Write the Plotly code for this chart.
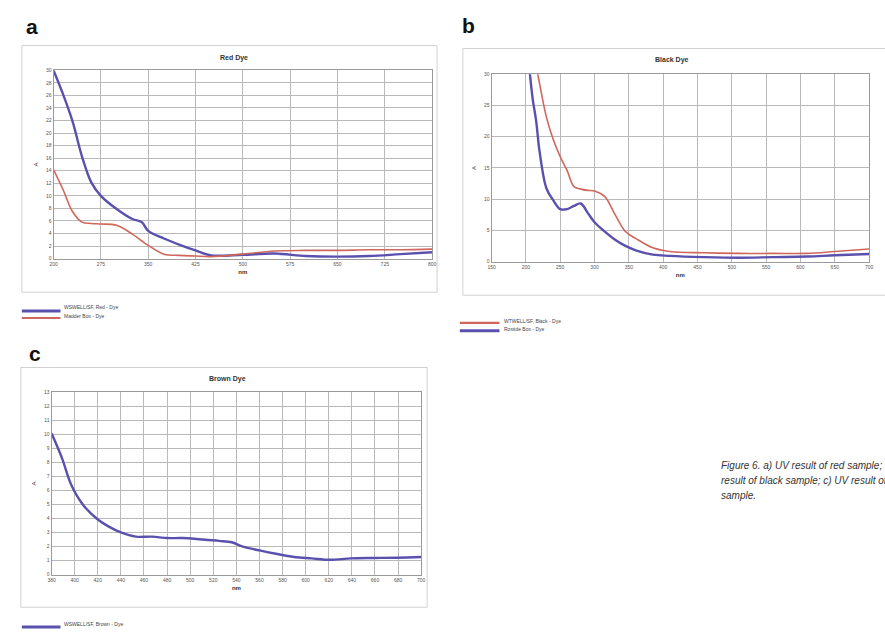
import plotly.graph_objects as go

# ---- Red dye spectra ----
wl_red = [200, 215, 230, 245, 260, 275, 300, 325, 340, 350, 375, 400, 425, 450,
          500, 550, 600, 650, 700, 750, 800]
red_sample = [30.0, 26.2, 21.9, 16.3, 12.1, 10.0, 7.9, 6.3, 5.8, 4.4, 3.2, 2.2, 1.3,
              0.5, 0.6, 0.8, 0.4, 0.3, 0.4, 0.7, 1.0]
red_ref = [14.2, 11.0, 7.5, 5.8, 5.6, 5.5, 5.3, 3.9, 2.8, 2.1, 0.7, 0.5, 0.4,
           0.3, 0.7, 1.2, 1.3, 1.3, 1.4, 1.4, 1.5]

# ---- Black dye spectra ----
wl_black = [205, 210, 215, 220, 230, 240, 250, 260, 270, 280, 290, 300, 315, 330,
            345, 360, 385, 410, 460, 510, 560, 610, 650, 700]
black_sample = [40.0, 36.0, 31.5, 28.5, 23.1, 19.5, 16.8, 14.6, 12.0, 11.6, 11.4, 11.3,
                10.4, 7.5, 4.8, 3.7, 2.2, 1.6, 1.4, 1.3, 1.3, 1.3, 1.6, 2.0]
black_ref = [31.0, 26.0, 22.5, 17.6, 11.7, 9.8, 8.4, 8.4, 8.9, 9.3, 7.8, 6.3,
             4.8, 3.5, 2.5, 1.8, 1.1, 0.9, 0.7, 0.6, 0.7, 0.8, 1.0, 1.2]

# ---- Brown dye spectrum ----
wl_brown = [380, 389, 397, 407, 419, 430, 440, 453, 467, 480, 493, 510, 525, 536,
            545, 561, 573, 590, 605, 621, 639, 659, 679, 700]
brown_sample = [10.07, 8.3, 6.4, 5.0, 4.0, 3.4, 3.0, 2.7, 2.7, 2.6, 2.6, 2.5, 2.4, 2.3,
                2.0, 1.7, 1.5, 1.25, 1.15, 1.05, 1.15, 1.18, 1.2, 1.25]

names_red = ["WSWELL/SF, Red - Dye", "Madder Box - Dye"]
names_black = ["WTWELL/SF, Black - Dye", "Rostide Box - Dye"]
names_brown = ["WSWELL/SF, Brown - Dye"]

BLUE = "#5a50ae"
RED = "#d0675c"
W, H = 885, 632


def px(x):
    return x / W


def py(y):
    return 1 - y / H


series = [
    # x, y, name, colour, width, axes
    (wl_red, red_sample, names_red[0], BLUE, 2.4, "x", "y"),
    (wl_red, red_ref, names_red[1], RED, 1.6, "x", "y"),
    (wl_black, black_sample, names_black[0], RED, 1.6, "x2", "y2"),
    (wl_black, black_ref, names_black[1], BLUE, 2.4, "x2", "y2"),
    (wl_brown, brown_sample, names_brown[0], BLUE, 2.4, "x3", "y3"),
]

fig = go.Figure()
for xs, ys, name, col, w, xr, yr in series:
    fig.add_trace(go.Scatter(x=xs, y=ys, name=name, mode="lines",
                             line=dict(color=col, width=w, shape="spline"),
                             xaxis=xr, yaxis=yr, showlegend=False))

tickfont = dict(family="Liberation Sans", size=5, color="#555")
grid = dict(showgrid=True, gridcolor="#b9b9b9", gridwidth=1, showline=True,
            linecolor="#9a9a9a", linewidth=1, mirror=True, zeroline=False,
            ticks="", tickfont=tickfont)
ttl = dict(family="Liberation Sans", size=6, color="#333")


def xa(dom, rng, dt, anchor):
    return dict(domain=dom, range=rng, dtick=dt, tick0=rng[0], anchor=anchor,
                title=dict(text="<b>nm</b>", font=ttl, standoff=4), **grid)


def ya(dom, rng, dt, anchor):
    return dict(domain=dom, range=rng, dtick=dt, tick0=0, anchor=anchor,
                title=dict(text="A", font=ttl, standoff=6), **grid)


fig.update_layout(
    width=W, height=H, margin=dict(l=0, r=0, t=0, b=0),
    paper_bgcolor="white", plot_bgcolor="white", showlegend=False,
    xaxis=xa([px(50), px(432)], [200, 800], 75, "y"),
    yaxis=ya([py(258), py(68)], [0, 30], 2, "x"),
    xaxis2=xa([px(492), px(873)], [150, 700], 50, "y2"),
    yaxis2=ya([py(261), py(72)], [0, 30], 5, "x2"),
    xaxis3=xa([px(48), px(421)], [380, 700], 20, "y3"),
    yaxis3=ya([py(577), py(393)], [0, 13], 1, "x3"),
)

# chart frames
for x0, y0, x1, y1 in [(18, 43, 437, 292), (463, 46, 892, 295), (17, 368, 427, 610)]:
    fig.add_shape(type="rect", xref="paper", yref="paper", x0=px(x0), x1=px(x1),
                  y0=py(y1), y1=py(y0), line=dict(color="#d2d2d2", width=1),
                  fillcolor="rgba(0,0,0,0)", layer="below")

# chart titles
for txt, x, y in [("Red Dye", 232, 56), ("Black Dye", 674, 58), ("Brown Dye", 226, 380)]:
    fig.add_annotation(text=f"<b>{txt}</b>", x=px(x), y=py(y), xref="paper", yref="paper",
                       xanchor="center", yanchor="middle", showarrow=False,
                       font=dict(family="Liberation Sans", size=7, color="#333"))

# panel letters
for txt, x, y in [("a", 28, 24), ("b", 469, 23), ("c", 31, 354)]:
    fig.add_annotation(text=f"<b>{txt}</b>", x=px(x), y=py(y), xref="paper", yref="paper",
                       xanchor="center", yanchor="middle", showarrow=False,
                       font=dict(family="Liberation Sans", size=21, color="#111"))

# legends below each chart: (series index, key x0, key x1, key y, text x, text y)
legend_items = [
    (0, 18, 57, 311, 59, 307),
    (1, 18, 57, 318, 59, 316),
    (2, 460, 500, 323, 503, 321),
    (3, 460, 500, 331, 503, 329),
    (4, 18, 57, 630, 59, 627),
]
for idx, x0, x1, ly, tx, ty in legend_items:
    _, _, name, col, w, _, _ = series[idx]
    fig.add_shape(type="line", xref="paper", yref="paper", x0=px(x0), x1=px(x1),
                  y0=py(ly), y1=py(ly), line=dict(color=col, width=w + 0.6))
    fig.add_annotation(text=name, x=px(tx), y=py(ty), xref="paper", yref="paper",
                       xanchor="left", yanchor="middle", showarrow=False,
                       font=dict(family="Liberation Sans", size=5, color="#444"))

caption_lines = ["Figure 6. a) UV result of red sample; b) UV",
                 "result of black sample; c) UV result of brown",
                 "sample."]
for i, line in enumerate(caption_lines):
    fig.add_annotation(text=f"<i>{line}</i>", x=px(722), y=py(467 + 15 * i),
                       xref="paper", yref="paper", xanchor="left", yanchor="middle",
                       align="left", showarrow=False,
                       font=dict(family="Liberation Sans", size=10, color="#333"))

fig.write_html("out.html")
